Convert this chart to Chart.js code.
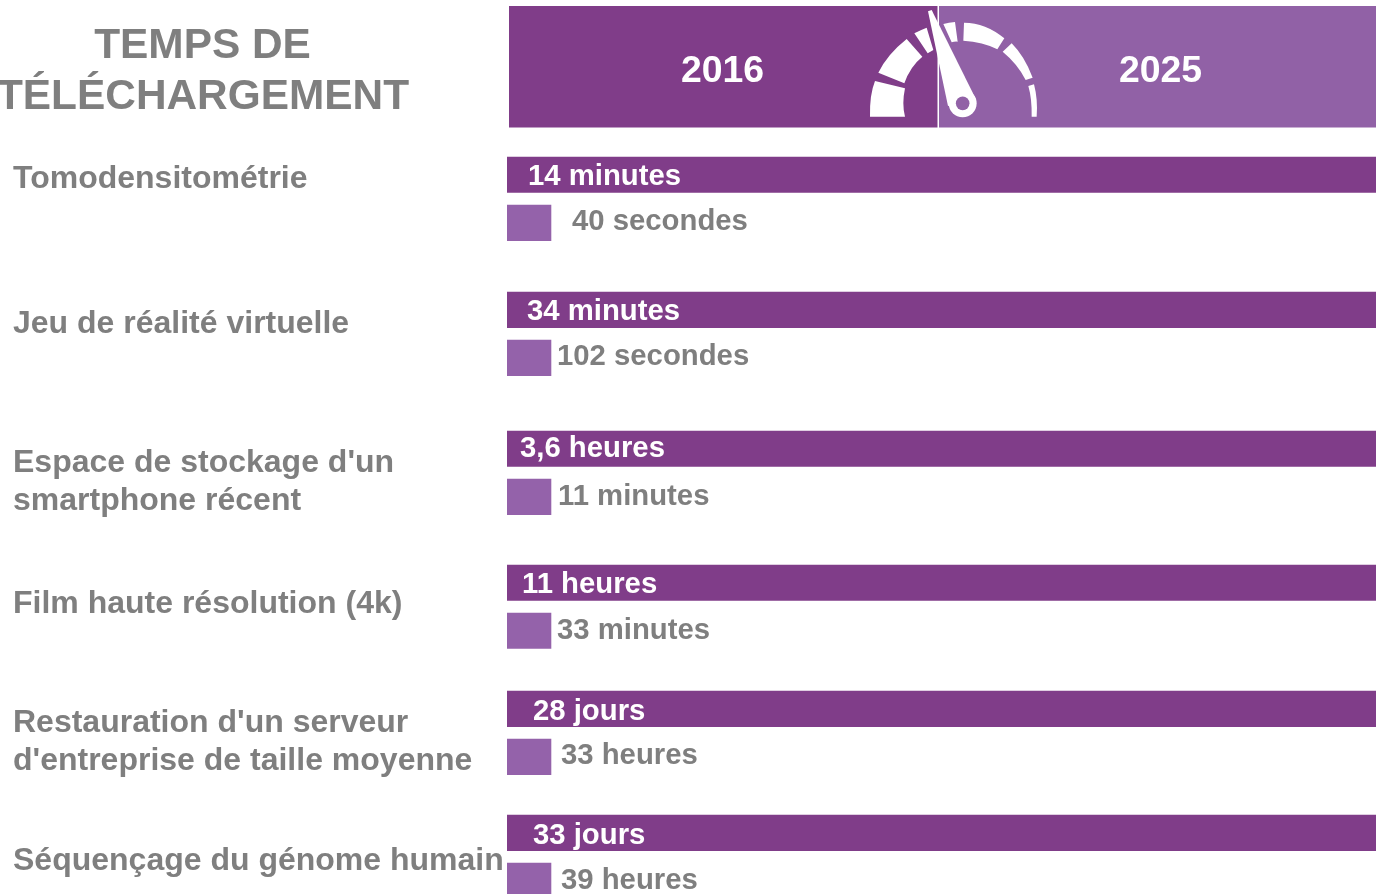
<!DOCTYPE html>
<html lang="fr"><head><meta charset="utf-8">
<style>html,body{margin:0;padding:0;background:#fff;overflow:hidden}canvas{display:block}</style>
<script src="https://cdn.jsdelivr.net/npm/chart.js@4"></script></head>
<body><canvas id="c" width="1376" height="894"></canvas>
<script>
const titleLines = ['TEMPS DE', 'TÉLÉCHARGEMENT'];
const years = ['2016', '2025'];
const categories = [
  ['Tomodensitométrie'],
  ['Jeu de réalité virtuelle'],
  ["Espace de stockage d'un", 'smartphone récent'],
  ['Film haute résolution (4k)'],
  ["Restauration d'un serveur", "d'entreprise de taille moyenne"],
  ['Séquençage du génome humain']
];
const labels2016 = ['14 minutes', '34 minutes', '3,6 heures', '11 heures', '28 jours', '33 jours'];
const labels2025 = ['40 secondes', '102 secondes', '11 minutes', '33 minutes', '33 heures', '39 heures'];
const values2016 = [100, 100, 100, 100, 100, 100];
const values2025 = [5.06, 5.06, 5.06, 5.06, 5.06, 5.06];
const rowPositions = [0, 1.026, 2.082, 3.100, 4.058, 5.0];
const rowGap = 0.365;

const C16 = '#803d89', C25 = '#9161a6', C25BAR = '#9462aa', GREY = '#7f7f7f';
const FONT = '"Liberation Sans", Arial, sans-serif';

// text layout (pixels)
const catY = [[179], [324], [463, 501], [604], [723, 761], [861]];
const lab16 = [[528,177],[527,312],[520,449],[522,585],[533,712],[533,836]];
const lab25 = [[572,222],[557,357],[558,497],[557,631],[561,756],[561,881]];

// gauge icon outline, in units of 1/3 px from (860,0):
// outer start, outer middle, outer end, inner end, inner middle, inner start
const gaugeSegs = [
  [[30,350],[33,290],[45,243],[135,265],[130,310],[135,350]],
  [[55,218],[90,165],[140,117],[187,170],[155,205],[133,250]],
  [[163,100],[181,91],[200,83],[220,150],[211,155],[203,160]],
  [[250,72],[267,68],[285,66],[293,125],[284,125],[275,127]],
  [[312,68],[375,80],[433,115],[412,148],[365,130],[310,122]],
  [[455,130],[490,175],[518,233],[497,240],[468,195],[428,155]],
  [[522,253],[530,300],[530,350],[515,350],[513,300],[505,258]]
];

const decorPlugin = {
  id: 'decor',
  beforeDatasetsDraw(chart) {
    const ctx = chart.ctx;
    ctx.save();
    ctx.fillStyle = C16; ctx.fillRect(509, 6, 428.5, 121.5);
    ctx.fillStyle = C25; ctx.fillRect(939, 6, 437, 121.5);
    ctx.restore();
  },
  afterDatasetsDraw(chart) {
    const ctx = chart.ctx;
    ctx.save();
    ctx.textBaseline = 'middle';
    ctx.textAlign = 'center';
    ctx.fillStyle = GREY;
    ctx.font = 'bold 42.4px ' + FONT;
    ctx.fillText(titleLines[0], 202.5, 46.5);
    ctx.fillText(titleLines[1], 203, 97);
    ctx.fillStyle = '#fff';
    ctx.font = 'bold 37.4px ' + FONT;
    ctx.fillText(years[0], 722.5, 71.5);
    ctx.fillText(years[1], 1160.5, 71.5);
    ctx.textAlign = 'left';
    ctx.fillStyle = GREY;
    ctx.font = 'bold 32px ' + FONT;
    categories.forEach((lines, i) => lines.forEach((t, j) => ctx.fillText(t, 13, catY[i][j])));
    ctx.font = 'bold 29.3px ' + FONT;
    ctx.fillStyle = '#fff';
    labels2016.forEach((t, i) => ctx.fillText(t, lab16[i][0], lab16[i][1]));
    ctx.fillStyle = GREY;
    labels2025.forEach((t, i) => ctx.fillText(t, lab25[i][0], lab25[i][1]));
    drawGauge(ctx);
    ctx.restore();
  }
};

function drawGauge(ctx) {
  const P = p => [860 + p[0] / 3, p[1] / 3];
  const curve = (a, m, b) => {
    const cx = 2 * m[0] - (a[0] + b[0]) / 2, cy = 2 * m[1] - (a[1] + b[1]) / 2;
    ctx.quadraticCurveTo(cx, cy, b[0], b[1]);
  };
  ctx.fillStyle = '#fff';
  gaugeSegs.forEach(s => {
    const [a, m, b, c, n, d] = s.map(P);
    ctx.beginPath();
    ctx.moveTo(a[0], a[1]);
    curve(a, m, b);
    ctx.lineTo(c[0], c[1]);
    curve(c, n, d);
    ctx.closePath();
    ctx.fill();
  });
  const pv = P([308, 310]);
  ctx.beginPath();
  ctx.arc(pv[0], pv[1], 14, 0, Math.PI * 2);
  ctx.fill();
  const t1 = P([204, 34]), t2 = P([215, 30]), r = P([349, 300]), l = P([264, 318]);
  ctx.beginPath();
  ctx.moveTo(t1[0], t1[1]); ctx.lineTo(t2[0], t2[1]); ctx.lineTo(r[0], r[1]); ctx.lineTo(l[0], l[1]);
  ctx.closePath(); ctx.fill();
  ctx.fillStyle = C25;
  ctx.beginPath();
  ctx.arc(pv[0], pv[1], 6.8, 0, Math.PI * 2);
  ctx.fill();
}

new Chart(document.getElementById('c'), {
  type: 'bar',
  data: {
    datasets: [
      {label: years[0], backgroundColor: C16, barThickness: 35.5, grouped: false,
       data: values2016.map((v, i) => ({x: v, y: rowPositions[i]}))},
      {label: years[1], backgroundColor: C25BAR, barThickness: 35.5, grouped: false,
       data: values2025.map((v, i) => ({x: v, y: rowPositions[i] + rowGap}))}
    ]
  },
  options: {
    indexAxis: 'y',
    responsive: false,
    animation: false,
    layout: {padding: {left: 507, right: 0, top: 0, bottom: 0}},
    scales: {
      x: {type: 'linear', min: 0, max: 100, display: false},
      y: {type: 'linear', offset: false, min: -1.328, max: 5.465, reverse: true, display: false}
    },
    plugins: {legend: {display: false}, tooltip: {enabled: false}, title: {display: false}}
  },
  plugins: [decorPlugin]
});
</script></body></html>
